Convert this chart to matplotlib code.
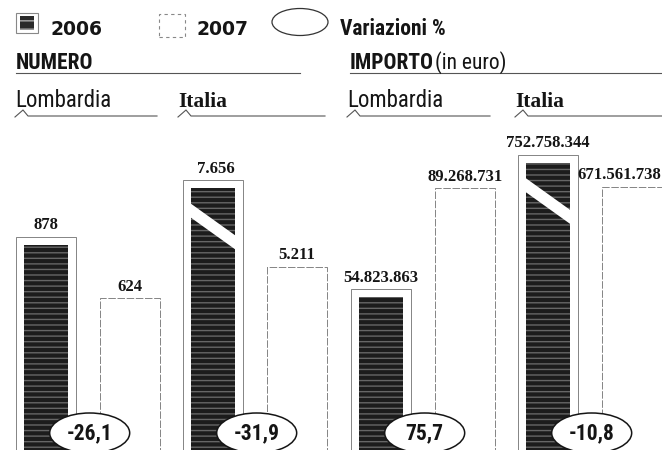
import matplotlib
matplotlib.use('Agg')
import matplotlib.pyplot as plt
from matplotlib import font_manager as fm, transforms as mtrans
from matplotlib.patches import Ellipse, Rectangle, Polygon
from matplotlib.lines import Line2D

# ---------------- data ----------------
groups = ['NUMERO', 'IMPORTO']
group_suffix = ['', '(in euro)']
areas = ['Lombardia', 'Italia', 'Lombardia', 'Italia']
years = ['2006', '2007']
values_2006 = [878, 7656, 54823863, 752758344]
values_2007 = [624, 5211, 89268731, 671561738]
variazioni = ['-26,1', '-31,9', '75,7', '-10,8']
legend_var = 'Variazioni %'

def it_fmt(v):
    return f"{v:,}".replace(',', '.')

# ---------------- fonts ----------------
names = {f.name for f in fm.fontManager.ttflist}
def pick(*cands):
    for c in cands:
        if c in names:
            return c
    return 'DejaVu Sans'
NARROW = pick('Roboto Condensed', 'Liberation Sans Narrow', 'DejaVu Sans Condensed')
SERIF = pick('Liberation Serif', 'DejaVu Serif')
WIDE = 'DejaVu Sans'

W, H = 662, 450
fig = plt.figure(figsize=(W / 100, H / 100), dpi=100)
fig.patch.set_facecolor('white')

def P(x, y):
    return (x / W, 1 - y / H)

INK = '#151515'
LINE = '#555555'

# ---------------- legend ----------------
fig.patches.append(Rectangle(P(16, 33), 22 / W, 20 / H, transform=fig.transFigure,
                             fc='white', ec='#888888', lw=0.8))
fig.patches.append(Rectangle(P(20, 30), 14 / W, 14 / H, transform=fig.transFigure,
                             fc='#2a2a2a', ec='none'))
fig.patches.append(Rectangle(P(20, 30), 14 / W, 14 / H, transform=fig.transFigure,
                             fc='none', ec='#aaaaaa', lw=0, hatch='--'))
fig.text(*P(50, 35), years[0], family=WIDE, weight='bold', size=13.5, color=INK, va='baseline')
fig.patches.append(Rectangle(P(159, 37), 26 / W, 23 / H, transform=fig.transFigure,
                             fc='white', ec='#888888', lw=0.8, ls=(0, (3, 3))))
fig.text(*P(197, 35), years[1], family=WIDE, weight='bold', size=13.5, color=INK, va='baseline')
fig.patches.append(Ellipse(P(300, 22), 56 / W, 27 / H, transform=fig.transFigure,
                           fc='white', ec='#333333', lw=0.9))
fig.text(*P(340, 35), legend_var, family=NARROW, weight='bold', size=15.5, color=INK, va='baseline')

# ---------------- group headers ----------------
hdr_x = [16, 350]
line_span = [(16, 300), (350, 662)]
for g, sfx, x, (a, b) in zip(groups, group_suffix, hdr_x, line_span):
    fig.text(*P(x, 69), g, family=NARROW, weight='bold', size=15.5, color=INK, va='baseline')
    if sfx:
        fig.text(*P(x + 85, 69), sfx, family=NARROW, size=15.5, color=INK, va='baseline')
    fig.lines.append(Line2D([a / W, b / W], [1 - 73 / H] * 2, transform=fig.transFigure,
                            color=LINE, lw=0.8))

# ---------------- area headers + braces ----------------
area_x = [15, 178, 347, 515]
brace_end = [157, 325, 490, 662]
for i, (name, x, xe) in enumerate(zip(areas, area_x, brace_end)):
    if name == 'Italia':
        fig.text(*P(x, 107), name, family=SERIF, weight='bold', size=15.5, color=INK, va='baseline')
    else:
        fig.text(*P(x, 107), name, family=NARROW, size=16.5, color=INK, va='baseline')
    px = x + 8
    xs = [x, px, px + 5, xe]
    ys = [117, 110, 116, 116]
    fig.lines.append(Line2D([v / W for v in xs], [1 - v / H for v in ys],
                            transform=fig.transFigure, color=LINE, lw=0.8))

# ---------------- bar panels ----------------
origins = [46, 213, 381, 548]          # pixel x of 2006 bar centre
ymax = [1317, 9090, 109.2e6, 816.7e6]  # per-panel vertical scale
AX_H = 320
frame_w, fill_w = 0.714, 0.512
label_dx = [0, 0, 3, 0, 0, 0, 0, -13]  # px shift of value labels
FRAME = '#707070'

for i in range(4):
    ax = fig.add_axes([(origins[i] - 42) / W, 0, 168 / W, AX_H / H])
    ax.set_xlim(-0.5, 1.5)
    ax.set_ylim(0, ymax[i])
    ax.axis('off')
    ppu = AX_H / ymax[i]
    v06, v07 = values_2006[i], values_2007[i]
    inset = 8 / ppu
    # 2006 frame + dark fill
    ax.bar(0, v06, width=frame_w, facecolor='none', edgecolor=FRAME, lw=0.6, zorder=2)
    ax.bar(0, v06 - inset, width=fill_w, color='#1c1c1c', lw=0, zorder=3)
    ax.bar(0, v06 - inset, width=fill_w, facecolor='none', edgecolor='#666666', lw=0,
           hatch='---', zorder=3)
    # 2007 frame
    ax.bar(1, v07, width=frame_w, facecolor='white', edgecolor=FRAME, lw=0.6,
           ls=(0, (9, 2)), zorder=2)
    # break mark on Italia 2006 bars
    if areas[i] == 'Italia':
        top = v06 - inset
        xl, xr = -fill_w / 2 - 0.01, fill_w / 2 + 0.01
        ax.add_patch(Polygon([(xl, top - 15 / ppu), (xr, top - 47 / ppu),
                              (xr, top - 61 / ppu), (xl, top - 29 / ppu)],
                             closed=True, fc='white', ec='none', zorder=4))
    # value labels
    for j, (xv, v) in enumerate([(0, v06), (1, v07)]):
        ax.annotate(it_fmt(v), xy=(xv, v), xytext=(label_dx[2 * i + j] * 0.72, 5.5),
                    textcoords='offset points', ha='center', va='baseline',
                    family=SERIF, weight='bold', size=12, color=INK,
                    annotation_clip=False, zorder=6)
    # variation ellipse
    tr = fig.dpi_scale_trans + mtrans.ScaledTranslation(0.52, 0, ax.transData)
    ax.add_patch(Ellipse((0, 0.17), 0.80, 0.40, transform=tr, fc='white', ec=INK,
                         lw=1.1, clip_on=False, zorder=7))
    ax.annotate(variazioni[i], xy=(0.52, 0), xytext=(0, 17 * 0.72), textcoords='offset points',
                ha='center', va='center', family=NARROW, weight='bold', size=15.5,
                color=INK, annotation_clip=False, zorder=8)

fig.savefig('out.png', dpi=100, facecolor='white')
